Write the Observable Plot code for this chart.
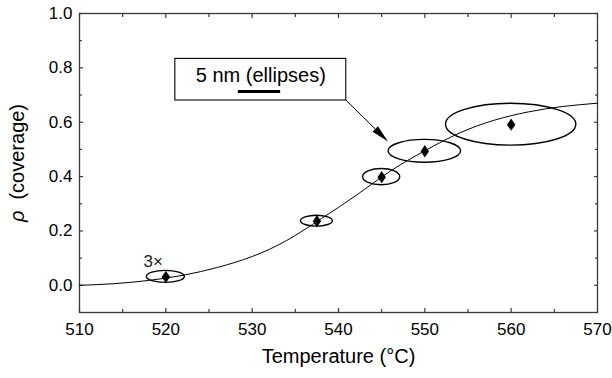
<!DOCTYPE html>
<html><head><meta charset="utf-8">
<script src="https://cdn.jsdelivr.net/npm/d3@7"></script>
<script src="https://cdn.jsdelivr.net/npm/@observablehq/plot@0.6"></script>
<style>body{margin:0;background:#fff} svg{display:block}</style>
</head><body><div id="chart"></div>
<script>
// measured points
const temperature = [520, 537.5, 545, 550, 560];
const coverage = [0.031, 0.236, 0.398, 0.493, 0.591];
// ellipse half-axes (in axis units)
const ellipseHalfWidth = [2.2, 1.85, 2.15, 4.2, 7.55];
const ellipseHalfHeight = [0.022, 0.020, 0.030, 0.042, 0.077];
// fitted curve
const fitTemperature = [510, 514, 518, 522, 526, 530, 534, 538, 542, 546, 550, 554, 558, 562, 566, 570];
const fitCoverage = [0.000, 0.006, 0.018, 0.037, 0.066, 0.106, 0.165, 0.245, 0.330, 0.420, 0.495, 0.560, 0.607, 0.638, 0.658, 0.670];
// ticks
const xMajor = [510, 520, 530, 540, 550, 560, 570];
const xMinor = [515, 525, 535, 545, 555, 565];
const yMajor = [0, 0.2, 0.4, 0.6, 0.8, 1.0];
const yMinor = [0.1, 0.3, 0.5, 0.7, 0.9];
// annotations
const noteText = "5 nm (ellipses)";
const noteBoxX = [521.1, 540.9];
const noteBoxY = [0.68, 0.833];
const noteTextPos = [531.0, 0.770];
const scaleBarX = [528.4, 533.3];
const scaleBarY = 0.713;
const arrowFrom = [540.9, 0.68];
const arrowTo = [545.8, 0.527];
const multiplierLabel = "3\u00d7";
const xLabel = "Temperature (\u00b0C)";
const yLabel = "\u03c1 (coverage)";

const points = temperature.map((t, i) => ({t, rho: coverage[i], rx: ellipseHalfWidth[i], ry: ellipseHalfHeight[i]}));
const fit = fitTemperature.map((t, i) => ({t, rho: fitCoverage[i]}));

const tallDiamond = {draw(ctx, size) {
  const r = Math.sqrt(size / Math.PI), h = r * 1.55, w = r * 1.05;
  ctx.moveTo(0, -h); ctx.lineTo(w, 0); ctx.lineTo(0, h); ctx.lineTo(-w, 0); ctx.closePath();
}};

const ellipses = (index, scales) => {
  const g = d3.create("svg:g").attr("fill", "none").attr("stroke", "black").attr("stroke-width", 1.4);
  for (const p of points) {
    g.append("ellipse")
      .attr("cx", scales.x(p.t)).attr("cy", scales.y(p.rho))
      .attr("rx", scales.x(p.t + p.rx) - scales.x(p.t))
      .attr("ry", scales.y(p.rho) - scales.y(p.rho + p.ry));
  }
  return g.node();
};

const arrow = (index, scales) => {
  const x1 = scales.x(arrowFrom[0]), y1 = scales.y(arrowFrom[1]);
  const x2 = scales.x(arrowTo[0]), y2 = scales.y(arrowTo[1]);
  const a = Math.atan2(y2 - y1, x2 - x1), L = 18, W = 3.8;
  const bx = x2 - L * Math.cos(a), by = y2 - L * Math.sin(a);
  const g = d3.create("svg:g");
  g.append("line").attr("x1", x1).attr("y1", y1).attr("x2", bx).attr("y2", by).attr("stroke", "black").attr("stroke-width", 1);
  g.append("path").attr("fill", "black")
    .attr("d", `M${x2},${y2}L${bx - W * Math.sin(a)},${by + W * Math.cos(a)}L${bx + W * Math.sin(a)},${by - W * Math.cos(a)}Z`);
  return g.node();
};

const frameColor = "#3a3a3a";
const tickOpts = {fill: "none", stroke: frameColor, strokeWidth: 1.2, label: null};

const chart = Plot.plot({
  width: 612, height: 378,
  marginLeft: 79, marginRight: 15, marginTop: 13, marginBottom: 66,
  style: {fontFamily: "'Liberation Sans', Arial, Helvetica, sans-serif", fontSize: "17px", color: "black", background: "white"},
  x: {domain: [510, 570]},
  y: {domain: [-0.1, 1.0]},
  marks: [
    Plot.axisX(xMajor, {anchor: "bottom", tickSize: 0, tickPadding: 10, fontSize: 17, label: null, tickFormat: d => String(d)}),
    Plot.axisY(yMajor, {anchor: "left", tickSize: 0, tickPadding: 7, fontSize: 17, label: null, tickFormat: d3.format(".1f")}),
    Plot.axisX(xMajor, {anchor: "bottom", tickSize: -4, ...tickOpts}),
    Plot.axisX(xMinor, {anchor: "bottom", tickSize: -3, ...tickOpts}),
    Plot.axisX(xMajor, {anchor: "top", tickSize: -4, ...tickOpts}),
    Plot.axisX(xMinor, {anchor: "top", tickSize: -3, ...tickOpts}),
    Plot.axisY(yMajor, {anchor: "left", tickSize: -4, ...tickOpts}),
    Plot.axisY(yMinor, {anchor: "left", tickSize: -3, ...tickOpts}),
    Plot.axisY(yMajor, {anchor: "right", tickSize: -4, ...tickOpts}),
    Plot.axisY(yMinor, {anchor: "right", tickSize: -3, ...tickOpts}),
    Plot.frame({stroke: frameColor, strokeWidth: 1.3}),
    Plot.line(fit, {x: "t", y: "rho", curve: "natural", stroke: "black", strokeWidth: 1}),
    ellipses,
    Plot.dot(points, {x: "t", y: "rho", symbol: tallDiamond, r: 4, fill: "black", stroke: "none"}),
    Plot.text([points[0]], {x: "t", y: "rho", text: () => multiplierLabel, dx: -3, dy: -15, textAnchor: "end", fontSize: 17, fill: "#222"}),
    Plot.rect([{x1: noteBoxX[0], x2: noteBoxX[1], y1: noteBoxY[0], y2: noteBoxY[1]}], {x1: "x1", x2: "x2", y1: "y1", y2: "y2", fill: "white", stroke: "black", strokeWidth: 1.1}),
    Plot.text([{x: noteTextPos[0], y: noteTextPos[1]}], {x: "x", y: "y", text: () => noteText, fontSize: 20, textAnchor: "middle"}),
    Plot.ruleY([{y: scaleBarY, x1: scaleBarX[0], x2: scaleBarX[1]}], {y: "y", x1: "x1", x2: "x2", stroke: "black", strokeWidth: 3}),
    arrow,
    Plot.text([xLabel], {frameAnchor: "bottom", dy: 50, fontSize: 20, textAnchor: "middle"}),
    Plot.text([yLabel], {frameAnchor: "left", dx: -62, rotate: -90, fontSize: 20, textAnchor: "middle"})
  ]
});

// italic rho in y label
for (const t of chart.querySelectorAll("text")) {
  if (t.textContent === yLabel) {
    t.textContent = "";
    const ns = "http://www.w3.org/2000/svg";
    const a = document.createElementNS(ns, "tspan");
    a.setAttribute("font-style", "italic"); a.textContent = "\u03c1";
    const b = document.createElementNS(ns, "tspan");
    b.setAttribute("dx", "0.55em"); b.textContent = "(coverage)";
    t.appendChild(a); t.appendChild(b);
  }
}
document.getElementById("chart").appendChild(chart);
</script>
</body></html>
